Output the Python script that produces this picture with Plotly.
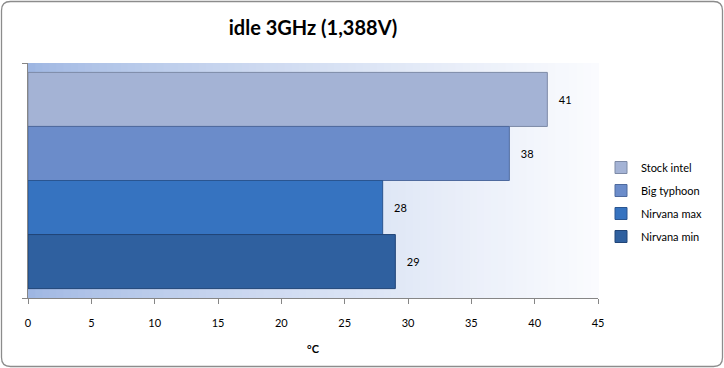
import plotly.graph_objects as go

series = ["Stock intel", "Big typhoon", "Nirvana max", "Nirvana min"]
values = [41, 38, 28, 29]
colors = ["#a4b3d5", "#6b8cca", "#3673c0", "#2f609f"]
lines = ["#7d8aa6", "#4e6a9e", "#2a5590", "#214577"]
x_ticks = [0, 5, 10, 15, 20, 25, 30, 35, 40, 45]
category = [""]

W, H = 724, 368
ML, MR, MT, MB = 28, 126, 63, 70
PW, PH = W - ML - MR, H - MT - MB


def px(xp):
    return (xp - ML) / PW


def py(yp):
    return (H - MB - yp) / PH


fig = go.Figure()
for name, v, c, lc in zip(series, values, colors, lines):
    fig.add_trace(go.Bar(
        y=category, x=[v], name=name, orientation="h", legendgroup=name,
        marker=dict(color=c, line=dict(color=lc, width=1)),
        text=["\u00a0\u00a0\u00a0" + str(v)], textposition="outside",
        textfont=dict(family="Lato", size=11, color="#000000"),
        cliponaxis=False,
    ))

# gradient plot-area background (decoration)
n = 80
c0 = (158, 182, 226)
c1 = (250, 251, 254)
shapes = []
for i in range(n):
    t = i / (n - 1)
    tt = t ** 0.75
    col = tuple(round(a + (b - a) * tt) for a, b in zip(c0, c1))
    shapes.append(dict(type="rect", xref="x domain", yref="y domain",
                       x0=i / n, x1=(i + 1) / n + 0.002, y0=0, y1=1,
                       fillcolor="rgb(%d,%d,%d)" % col, line=dict(width=0),
                       layer="below"))

# rounded chart border (decoration)
x0, x1, y0, y1, rr = 1.5, 722.5, 1.5, 366.5, 9
path = (
    f"M {px(x0)},{py(y0 + rr)} "
    f"Q {px(x0)},{py(y0)} {px(x0 + rr)},{py(y0)} "
    f"L {px(x1 - rr)},{py(y0)} "
    f"Q {px(x1)},{py(y0)} {px(x1)},{py(y0 + rr)} "
    f"L {px(x1)},{py(y1 - rr)} "
    f"Q {px(x1)},{py(y1)} {px(x1 - rr)},{py(y1)} "
    f"L {px(x0 + rr)},{py(y1)} "
    f"Q {px(x0)},{py(y1)} {px(x0)},{py(y1 - rr)} Z"
)
shapes.append(dict(type="path", xref="paper", yref="paper", layer="above",
                   path=path, line=dict(color="#8c8c8c", width=1.3)))

fig.update_layout(
    width=W, height=H,
    margin=dict(l=ML, r=MR, t=MT, b=MB, autoexpand=False),
    paper_bgcolor="white", plot_bgcolor="white",
    barmode="group", bargap=0.08, bargroupgap=0,
    title=dict(text="<b>idle 3GHz (1,388V)</b>", x=0.5, xanchor="center",
               y=0.925, yanchor="middle", xref="paper",
               font=dict(family="Lato", size=20, color="#000000")),
    font=dict(family="Lato", size=11, color="#000000"),
    showlegend=True,
    legend=dict(x=px(601), xanchor="left", y=py(202), yanchor="middle",
                font=dict(family="Lato", size=11, color="#000000"),
                tracegroupgap=4, itemwidth=30, bgcolor="rgba(0,0,0,0)"),
    xaxis=dict(range=[0, 45], tickvals=x_ticks, ticktext=[str(t) for t in x_ticks],
               showgrid=False, zeroline=False, showline=True, linecolor="#868686",
               linewidth=1, ticks="outside", ticklen=5, tickcolor="#868686",
               ticklabelstandoff=10,
               title=dict(text="<b>°C</b>", standoff=17,
                          font=dict(family="Lato", size=11, color="#000000")),
               tickfont=dict(family="Lato", size=11, color="#000000")),
    yaxis=dict(autorange="reversed", showgrid=False, zeroline=False, showline=True,
               linecolor="#868686", linewidth=1, ticks="outside", ticklen=5,
               tickcolor="#868686", tickson="boundaries", showticklabels=False),
    shapes=shapes,
)

fig.write_html("out.html")
